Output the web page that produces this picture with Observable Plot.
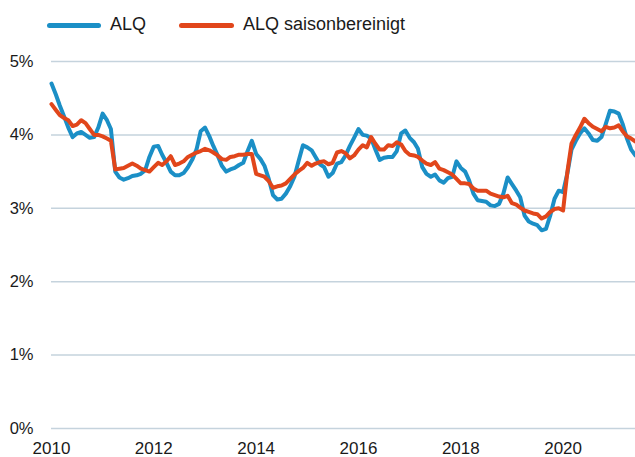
<!DOCTYPE html>
<html>
<head>
<meta charset="utf-8">
<script src="https://cdn.jsdelivr.net/npm/d3@7"></script>
<script src="https://cdn.jsdelivr.net/npm/@observablehq/plot@0.6"></script>
<style>
  html, body { margin: 0; padding: 0; background: #fff; }
  body { width: 635px; height: 457px; overflow: hidden; font-family: "Liberation Sans", Arial, sans-serif; color: #1a1a1a; }
  #legend { position: relative; height: 45px; }
  .sw { position: absolute; height: 5px; border-radius: 3px; top: 23px; }
  .lt { position: absolute; top: 13px; font-size: 18px; line-height: 22px; }
  #chart svg { display: block; }
</style>
</head>
<body>
<div id="legend">
  <div class="sw" style="left:47px; width:54px; background:#1b8fc6;"></div>
  <div class="lt" style="left:110px;">ALQ</div>
  <div class="sw" style="left:179px; width:55px; background:#e1461b;"></div>
  <div class="lt" style="left:243px;">ALQ saisonbereinigt</div>
</div>
<div id="chart"></div>
<script>
// Monthly, Jan 2010 – Jun 2021
const startMonth = "2010-01-01";
const endMonth = "2021-06-01";
const seriesNames = ["ALQ", "ALQ saisonbereinigt"];
const seriesColors = ["#1b8fc6", "#e1461b"];

const alq = [
  4.70,4.55,4.40,4.25,4.10,3.97,4.02,4.04,4.00,3.96,3.97,4.10,
  4.29,4.20,4.08,3.50,3.42,3.39,3.41,3.44,3.45,3.47,3.52,3.70,
  3.84,3.85,3.73,3.62,3.50,3.45,3.45,3.48,3.56,3.66,3.80,4.05,
  4.10,3.98,3.85,3.72,3.58,3.50,3.53,3.55,3.59,3.62,3.78,3.92,
  3.74,3.67,3.58,3.40,3.18,3.12,3.13,3.20,3.30,3.43,3.65,3.86,
  3.83,3.79,3.70,3.60,3.56,3.43,3.48,3.61,3.63,3.72,3.85,3.96,
  4.08,4.00,3.99,3.95,3.80,3.66,3.69,3.70,3.70,3.78,4.02,4.06,
  3.96,3.90,3.81,3.56,3.47,3.43,3.46,3.38,3.35,3.41,3.43,3.64,
  3.55,3.50,3.38,3.20,3.11,3.10,3.09,3.04,3.03,3.06,3.20,3.42,
  3.33,3.24,3.15,2.90,2.82,2.79,2.77,2.70,2.72,2.90,3.13,3.24,
  3.22,3.48,3.80,3.92,4.02,4.09,4.02,3.93,3.92,3.97,4.15,4.33,
  4.32,4.29,4.15,3.95,3.80,3.72
];
const alqSa = [
  4.42,4.34,4.27,4.23,4.20,4.12,4.14,4.20,4.16,4.08,4.00,4.00,
  3.98,3.95,3.92,3.53,3.54,3.55,3.58,3.61,3.58,3.54,3.52,3.50,
  3.56,3.62,3.59,3.64,3.71,3.59,3.61,3.64,3.70,3.73,3.76,3.78,
  3.81,3.79,3.76,3.72,3.67,3.66,3.70,3.71,3.73,3.73,3.74,3.74,
  3.47,3.45,3.43,3.37,3.28,3.30,3.31,3.34,3.40,3.46,3.51,3.55,
  3.62,3.58,3.61,3.63,3.64,3.60,3.62,3.76,3.78,3.75,3.68,3.72,
  3.80,3.86,3.83,3.97,3.88,3.80,3.80,3.86,3.85,3.90,3.87,3.78,
  3.73,3.72,3.70,3.65,3.61,3.59,3.63,3.54,3.52,3.49,3.46,3.40,
  3.34,3.34,3.33,3.27,3.24,3.24,3.24,3.20,3.18,3.16,3.15,3.17,
  3.07,3.05,3.01,2.97,2.95,2.93,2.92,2.86,2.89,2.95,2.99,3.00,
  2.97,3.50,3.88,4.00,4.10,4.22,4.16,4.11,4.08,4.05,4.11,4.09,
  4.10,4.13,4.05,3.98,3.95,3.91
];
const yTicks = [0, 1, 2, 3, 4, 5];
const xTickYears = [2010, 2012, 2014, 2016, 2018, 2020];

const months = d3.utcMonth.range(new Date(startMonth), d3.utcMonth.offset(new Date(endMonth), 1));
const rows = [];
months.forEach((d, i) => {
  rows.push({date: d, value: alq[i], series: seriesNames[0]});
});
months.forEach((d, i) => {
  rows.push({date: d, value: alqSa[i], series: seriesNames[1]});
});

const chart = Plot.plot({
  width: 635,
  height: 412,
  marginLeft: 51,
  marginRight: 0,
  marginTop: 16,
  marginBottom: 29,
  style: {fontFamily: "'Liberation Sans', Arial, sans-serif", fontSize: "16px", color: "#1a1a1a", background: "#fff"},
  x: {type: "utc", domain: [new Date(startMonth), new Date(endMonth)], label: null},
  y: {domain: [0, 5], label: null},
  color: {domain: seriesNames, range: seriesColors},
  marks: [
    Plot.ruleY(yTicks, {stroke: "#c5d3dd", strokeWidth: 1.5}),
    Plot.axisY(yTicks, {tickSize: 0, tickPadding: 18, tickFormat: d => d + "%", fontSize: 16.5, label: null}),
    Plot.axisX(xTickYears.map(y => new Date(Date.UTC(y, 0, 1))), {tickSize: 0, tickPadding: 13, tickFormat: d => String(d.getUTCFullYear()), fontSize: 17, label: null}),
    Plot.line(rows, {x: "date", y: "value", z: "series", stroke: "series", strokeWidth: 4, strokeLinejoin: "round", strokeLinecap: "round"})
  ]
});
document.getElementById("chart").appendChild(chart);
</script>
</body>
</html>
